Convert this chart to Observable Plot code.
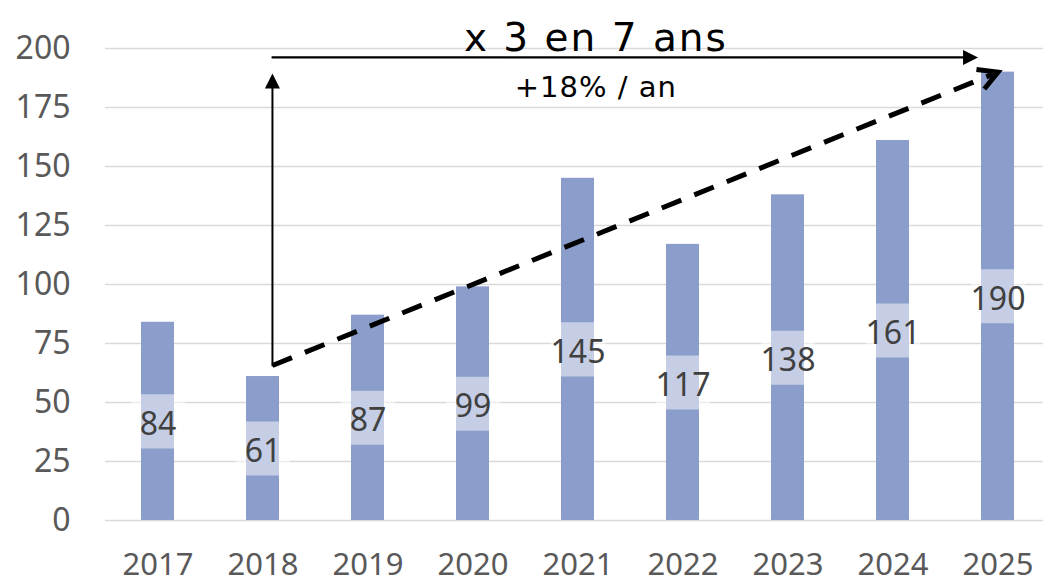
<!DOCTYPE html>
<html>
<head>
<meta charset="utf-8">
<script src="https://cdn.jsdelivr.net/npm/d3@7"></script>
<script src="https://cdn.jsdelivr.net/npm/@observablehq/plot@0.6"></script>
<style>
  html, body { margin: 0; padding: 0; background: #fff; }
  #chart svg { display: block; }
</style>
</head>
<body>
<div id="chart"></div>
<script>
// ---- data ----
const years = [2017, 2018, 2019, 2020, 2021, 2022, 2023, 2024, 2025];
const values = [84, 61, 87, 99, 145, 117, 138, 161, 190];
const yTicks = [0, 25, 50, 75, 100, 125, 150, 175, 200];

// ---- annotations (in data units) ----
const titleText = ["x 3 en 7 ans"];
const subtitleText = ["+18% / an"];
const annotationCenterX = [2021.17];
const titleY = [199.1];
const subtitleY = [179.4];
const trendStart = [{x: 2018.09, y: 65.7}];
const trendEnd = [{x: 2025.0, y: 190}];
const verticalArrow = [{x: 2018.09, y1: 65.7, y2: 189.4}];
const horizontalArrow = [{x1: 2018.09, x2: 2024.81, y: 196.2}];

const data = years.map((year, i) => ({year, value: values[i], label: String(values[i])}));

const barColor = "#8a9dcb";
const font = "'Noto Sans', sans-serif";

const triangleHead = { draw(ctx) { ctx.moveTo(0, 0); ctx.lineTo(-15, -7.5); ctx.lineTo(-15, 7.5); ctx.closePath(); } };
const chevronHead = { draw(ctx) { ctx.moveTo(-19, -10.5); ctx.lineTo(0, 0); ctx.lineTo(-19, 10.5); } };

const chart = Plot.plot({
  width: 1043,
  height: 584,
  marginLeft: 105,
  marginRight: 0,
  marginTop: 48,
  marginBottom: 64,
  style: {fontFamily: font, background: "#fff", overflow: "visible"},
  x: {domain: [2016.5, 2025.5], range: [105, 1050]},
  y: {domain: [0, 200]},
  marks: [
    Plot.gridY(yTicks, {stroke: "#d9d9d9", strokeOpacity: 1, strokeWidth: 1.5}),
    Plot.axisY({ticks: yTicks, tickSize: 0, tickPadding: 35, fontSize: 32, color: "#595959", label: null}),
    Plot.axisX({ticks: years, tickFormat: d => String(d), tickSize: 0, tickPadding: 32, fontSize: 31, color: "#595959", label: null}),
    Plot.rectY(data, {x1: d => d.year - 0.5, x2: d => d.year + 0.5, y: "value", insetLeft: 36, insetRight: 36, fill: barColor}),
    Plot.dot(data, {x: "year", y: d => d.value / 2, symbol: "square", r: 30.5, fill: "#fff", fillOpacity: 0.5, stroke: "none"}),
    Plot.text(data, {x: "year", y: d => d.value / 2, text: "label", fontSize: 32, fill: "#404040", dy: 3}),
    // vertical arrow
    Plot.arrow(verticalArrow, {x1: "x", x2: "x", y1: "y1", y2: "y2", headLength: 0, insetEnd: 8, stroke: "#000", strokeWidth: 2}),
    Plot.dot(verticalArrow, {x: "x", y: "y2", symbol: triangleHead, rotate: -90, fill: "#000", stroke: "none", r: 5}),
    // horizontal arrow
    Plot.arrow(horizontalArrow, {x1: "x1", x2: "x2", y1: "y", y2: "y", headLength: 0, insetEnd: 8, stroke: "#000", strokeWidth: 2.2}),
    Plot.dot(horizontalArrow, {x: "x2", y: "y", symbol: triangleHead, rotate: 0, fill: "#000", stroke: "none", r: 5}),
    // dashed trend arrow
    Plot.link([0], {x1: () => trendStart[0].x, y1: () => trendStart[0].y, x2: () => trendEnd[0].x, y2: () => trendEnd[0].y, stroke: "#000", strokeWidth: 5, strokeDasharray: "21,14"}),
    Plot.dot(trendEnd, {x: "x", y: "y", symbol: chevronHead, rotate: -22, fill: "none", stroke: "#000", strokeWidth: 5, strokeLinejoin: "miter", r: 5}),
    // annotation texts
    Plot.text(titleText, {x: () => annotationCenterX[0], y: () => titleY[0], text: d => d, lineAnchor: "bottom", fontSize: 39, fontFamily: "'DejaVu Sans', sans-serif", fill: "#000"}),
    Plot.text(subtitleText, {x: () => annotationCenterX[0], y: () => subtitleY[0], text: d => d, lineAnchor: "bottom", fontSize: 29, fontFamily: "'DejaVu Sans', sans-serif", fill: "#000"})
  ]
});

chart.querySelectorAll("text").forEach(t => {
  if (t.textContent === titleText[0]) t.style.letterSpacing = "2px";
  if (t.textContent === subtitleText[0]) t.style.letterSpacing = "1px";
});

document.getElementById("chart").appendChild(chart);
</script>
</body>
</html>
